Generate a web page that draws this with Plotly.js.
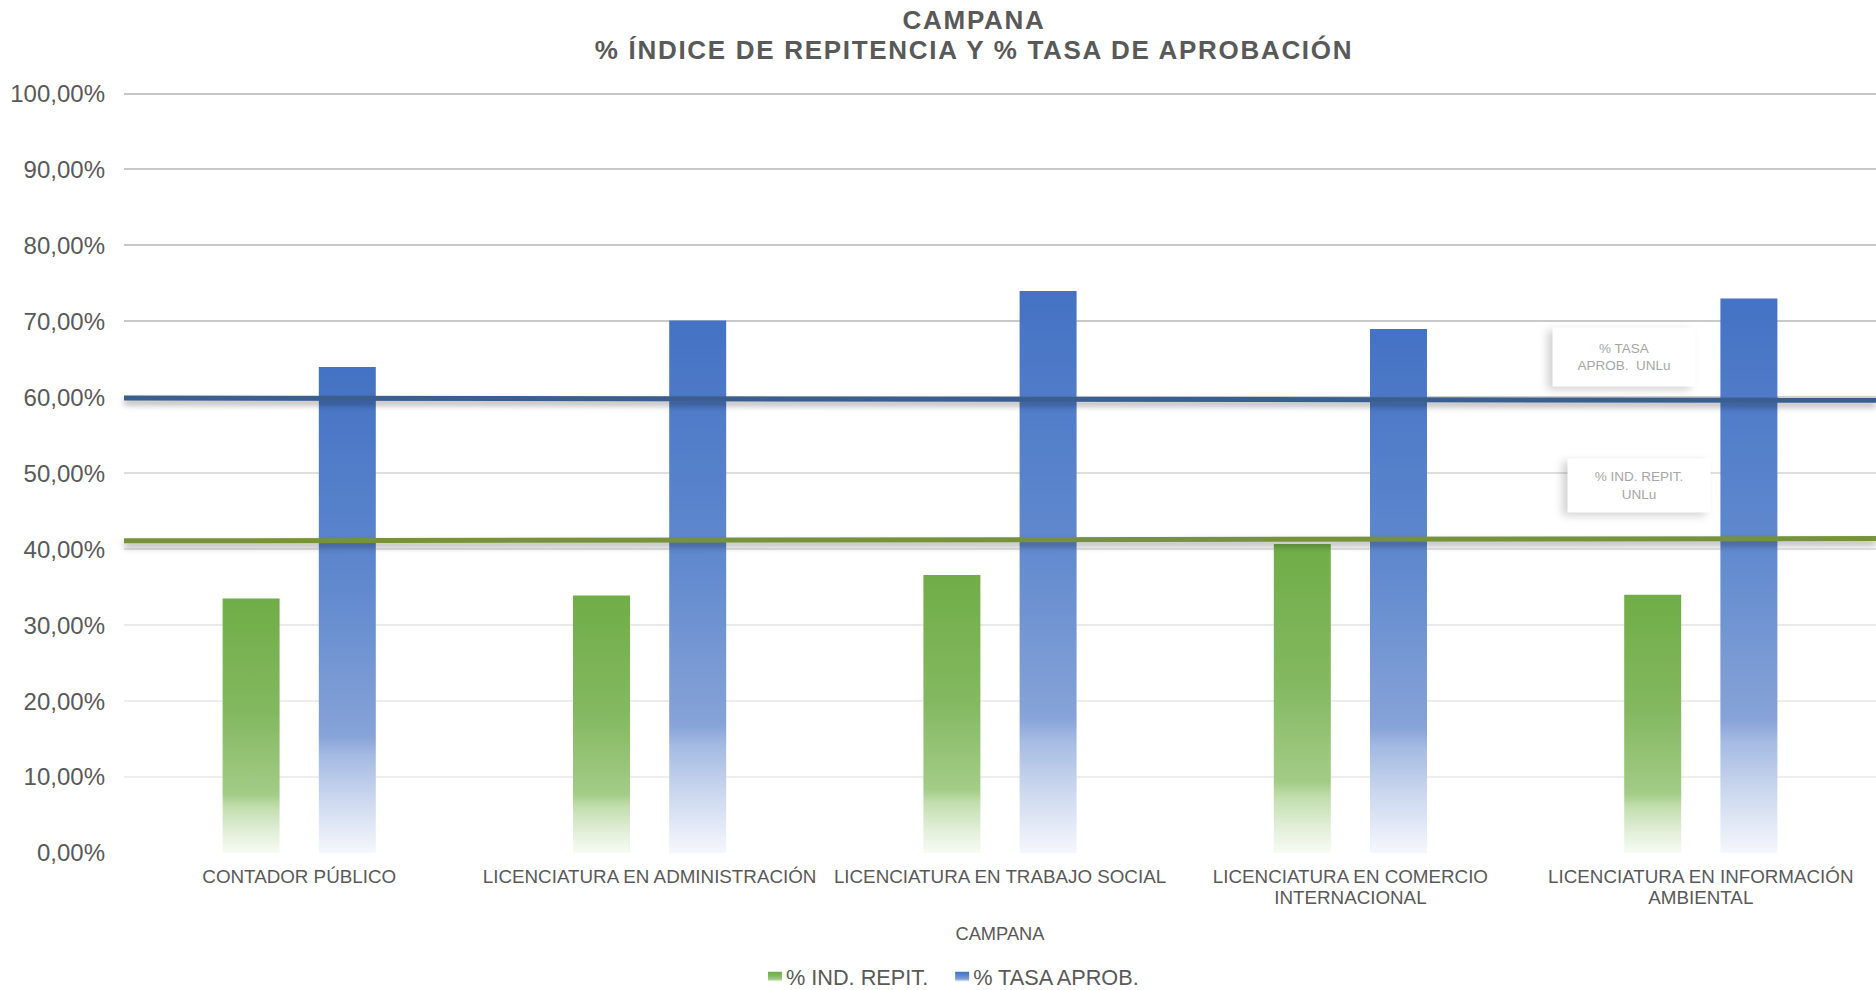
<!DOCTYPE html>
<html>
<head>
<meta charset="utf-8">
<script src="https://cdn.plot.ly/plotly-3.0.1.min.js"></script>
<style>
  html, body { margin: 0; padding: 0; background: #ffffff; }
  #chart { width: 1876px; height: 990px; }
</style>
</head>
<body>
<div id="chart"></div>
<script>
// ---- data ----
const carreras = [
  'CONTADOR PÚBLICO',
  'LICENCIATURA EN ADMINISTRACIÓN',
  'LICENCIATURA EN TRABAJO SOCIAL',
  'LICENCIATURA EN COMERCIO<br>INTERNACIONAL',
  'LICENCIATURA EN INFORMACIÓN<br>AMBIENTAL'
];
const indRepit = [0.335, 0.339, 0.366, 0.407, 0.340];
const tasaAprob = [0.640, 0.701, 0.740, 0.690, 0.730];
// reference lines UNLu (left end, right end)
const repitUNLu = [0.411, 0.414];
const aprobUNLu = [0.599, 0.596];
const serieNombres = ['% IND. REPIT.', '% TASA APROB.'];
const tituloLineas = ['CAMPANA', '% ÍNDICE DE REPITENCIA Y % TASA DE APROBACIÓN'];
const ejeXTitulo = 'CAMPANA';
const etiquetasUNLu = ['% TASA<br>APROB.\u00a0 UNLu', '% IND. REPIT.<br>UNLu'];

const FONT = "'Liberation Sans', Arial, sans-serif";
const GREY = '#595959';

const traces = [
  { type: 'bar', name: serieNombres[0], x: carreras, y: indRepit,
    marker: { color: '#70AD47' }, hoverinfo: 'none' },
  { type: 'bar', name: serieNombres[1], x: carreras, y: tasaAprob,
    marker: { color: '#4472C4' }, hoverinfo: 'none' }
];

const layout = {
  width: 1876, height: 990,
  margin: { l: 124, r: 0, t: 92, b: 137 },
  paper_bgcolor: '#ffffff', plot_bgcolor: '#ffffff',
  font: { family: FONT, color: GREY },
  barmode: 'group', bargap: 0.451, bargroupgap: 0.4075,
  showlegend: true,
  title: {
    text: tituloLineas.join('<br>'),
    font: { family: FONT, size: 26, color: GREY, weight: 700 },
    xref: 'container', x: 0.5192, xanchor: 'center',
    yref: 'container', y: 0.9712, yanchor: 'top'
  },
  xaxis: {
    type: 'category', showgrid: false, zeroline: false, showline: false,
    ticks: '', tickfont: { family: FONT, size: 18.8, color: GREY },
    ticklabelstandoff: 10,
    title: { text: ejeXTitulo, font: { family: FONT, size: 18.3, color: GREY }, standoff: 16 }
  },
  yaxis: {
    range: [0, 1.002], tickvals: [0, 0.1, 0.2, 0.3, 0.4, 0.5, 0.6, 0.7, 0.8, 0.9, 1.0],
    tickformat: '.2%',
    ticks: '', showline: false, zeroline: false,
    gridcolor: '#D9D9D9', gridwidth: 2,
    tickfont: { family: FONT, size: 24, color: GREY },
    ticklabelstandoff: 18
  },
  separators: ',.',
  legend: {
    orientation: 'h', xref: 'paper', x: 0.355, xanchor: 'left',
    yref: 'container', y: 0.013, yanchor: 'middle',
    font: { family: FONT, size: 21.7, color: GREY },
    itemclick: false, itemdoubleclick: false
  },
  shapes: [
    { type: 'line', xref: 'paper', yref: 'y', x0: 0, x1: 1,
      y0: aprobUNLu[0], y1: aprobUNLu[1], layer: 'above',
      line: { color: '#3A5F8F', width: 5 } },
    { type: 'line', xref: 'paper', yref: 'y', x0: 0, x1: 1,
      y0: repitUNLu[0], y1: repitUNLu[1], layer: 'above',
      line: { color: '#76923C', width: 5 } }
  ],
  annotations: [
    { text: etiquetasUNLu[0], xref: 'paper', yref: 'paper', x: 0.8562, y: 0.652,
      xanchor: 'center', yanchor: 'middle', showarrow: false,
      width: 140, height: 56, bgcolor: '#ffffff',
      font: { family: FONT, size: 13.5, color: '#A6A6A6' } },
    { text: etiquetasUNLu[1], xref: 'paper', yref: 'paper', x: 0.8647, y: 0.4823,
      xanchor: 'center', yanchor: 'middle', showarrow: false,
      width: 140, height: 51, bgcolor: '#ffffff',
      font: { family: FONT, size: 13.5, color: '#A6A6A6' } }
  ]
};

function hexToRgb(h) { return [1,3,5].map(i => parseInt(h.substr(i,2),16)); }
function lerpColor(stops, v) {
  if (v <= stops[0][0]) return stops[0][1];
  for (let i = 1; i < stops.length; i++) {
    if (v <= stops[i][0]) {
      const t = (v - stops[i-1][0]) / (stops[i][0] - stops[i-1][0]);
      const a = hexToRgb(stops[i-1][1]), b = hexToRgb(stops[i][1]);
      return 'rgb(' + a.map((c,k) => Math.round(c + (b[k]-c)*t)).join(',') + ')';
    }
  }
  return stops[stops.length-1][1];
}

function makeGradient(defs, id, stops) {
  const NS = 'http://www.w3.org/2000/svg';
  const g = document.createElementNS(NS, 'linearGradient');
  g.setAttribute('id', id);
  g.setAttribute('x1', '0'); g.setAttribute('y1', '0');
  g.setAttribute('x2', '0'); g.setAttribute('y2', '1');
  stops.forEach(s => {
    const st = document.createElementNS(NS, 'stop');
    st.setAttribute('offset', s[0]);
    st.setAttribute('stop-color', s[1]);
    g.appendChild(st);
  });
  defs.appendChild(g);
}

function decorate(gd) {
  const svg = gd.querySelector('svg.main-svg');
  let defs = svg.querySelector('defs');
  if (!defs) { defs = document.createElementNS('http://www.w3.org/2000/svg', 'defs'); svg.insertBefore(defs, svg.firstChild); }
  const gradIds = ['gradRepit', 'gradAprob'];
  makeGradient(defs, gradIds[0], [
    [0, '#70AD47'], [0.45, '#83B860'], [0.77, '#A3CC87'], [0.82, '#C2DEAE'], [0.92, '#E3EFDA'], [1, '#F7FBF4']
  ]);
  makeGradient(defs, gradIds[1], [
    [0, '#4472C4'], [0.45, '#6089CE'], [0.76, '#87A3D8'], [0.80, '#A5BBE3'], [0.9, '#D0DBF0'], [1, '#F5F7FC']
  ]);
  gd.querySelectorAll('.barlayer .trace').forEach((tr, i) => {
    tr.querySelectorAll('path').forEach(p => { p.style.fill = 'url(#' + gradIds[i % 2] + ')'; });
  });
  gd.querySelectorAll('.legend .traces').forEach((tr, i) => {
    tr.querySelectorAll('.legendpoints path').forEach(p => {
      p.style.fill = 'url(#' + gradIds[i % 2] + ')';
      p.setAttribute('d', 'M7,5H-7V-5H7Z');
      p.setAttribute('transform', 'translate(29,0)');
    });
  });
  gd.querySelectorAll('.layer-above .shapelayer path').forEach(p => {
    p.style.filter = 'drop-shadow(0px 4px 3px rgba(0,0,0,0.35))';
  });
  gd.querySelectorAll('.annotation rect.bg').forEach(r => {
    r.style.filter = 'drop-shadow(-5px 3px 4px rgba(0,0,0,0.18))';
  });
  gd.querySelectorAll('.gtitle').forEach(t => {
    t.style.letterSpacing = '1.7px';
    t.querySelectorAll('tspan.line').forEach((ts, k) => { if (k > 0) ts.setAttribute('dy', '1.19em'); });
  });
  gd.querySelectorAll('.xtick text').forEach(t => {
    t.querySelectorAll('tspan.line').forEach((ts, k) => { if (k > 0) ts.setAttribute('dy', '1.15em'); });
  });
  // gridline shading: darker near the top
  const ya = gd._fullLayout.yaxis;
  const top = gd.getBoundingClientRect().top;
  const gridStops = [[0, '#EEEEEE'], [0.2, '#EDEDED'], [0.3, '#EAEAEA'], [0.5, '#DEDEDE'], [0.7, '#C9C9C9'], [1, '#C6C6C6']];
  gd.querySelectorAll('path.ygrid').forEach(p => {
    const r = p.getBoundingClientRect();
    const y = r.top - top + r.height / 2;
    const v = 1 - (y - ya._offset) / ya._length * ya.range[1];
    p.style.stroke = lerpColor(gridStops, v);
  });
}

Plotly.newPlot('chart', traces, layout, { displayModeBar: false, staticPlot: true })
  .then(decorate);
</script>
</body>
</html>
